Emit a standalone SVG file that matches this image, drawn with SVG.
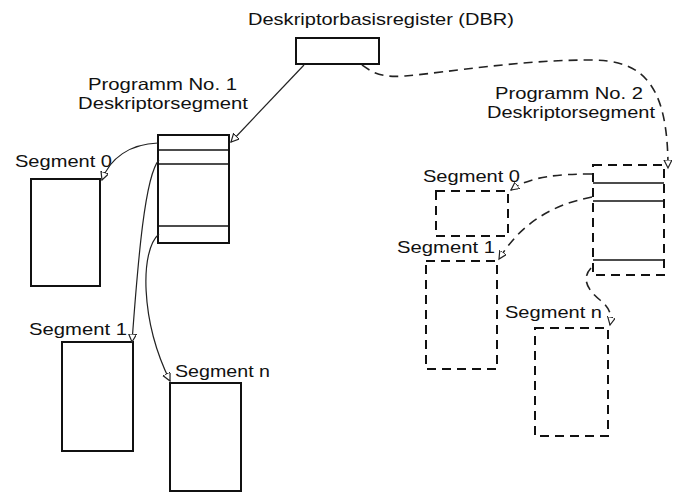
<svg xmlns="http://www.w3.org/2000/svg" width="686" height="494" viewBox="0 0 686 494">
<style>
text{font-family:"Liberation Sans",Arial,sans-serif;font-size:17px;fill:#111}
.big{font-size:16.5px}
.box{fill:#fff;stroke:#111;stroke-width:2}
.dbox{fill:#fff;stroke:#111;stroke-width:2;stroke-dasharray:9,6}
.ln{stroke:#111;stroke-width:1.5;fill:none}
.con{stroke:#222;stroke-width:1.2;fill:none}
.dcon{stroke:#222;stroke-width:1.6;fill:none;stroke-dasharray:9,6}
</style>
<defs>
<marker id="ah" markerWidth="10" markerHeight="10" refX="8" refY="4" orient="auto" markerUnits="userSpaceOnUse">
<path d="M0,0 L8,4 L0,8 Z" fill="#fff" stroke="#222" stroke-width="1.2"/>
</marker>
</defs>
<rect width="686" height="494" fill="#fff"/>

<g id="dbr">
<text x="248" y="25" textLength="266" lengthAdjust="spacingAndGlyphs">Deskriptorbasisregister (DBR)</text>
<rect class="box" x="296" y="38" width="83" height="26"/>
</g>

<g id="ds1">
<text class="big" x="88" y="90" textLength="149" lengthAdjust="spacingAndGlyphs">Programm No. 1</text>
<text class="big" x="78" y="109" textLength="170" lengthAdjust="spacingAndGlyphs">Deskriptorsegment</text>
<rect class="box" x="158" y="135" width="71" height="108"/>
<line class="ln" x1="158" y1="150" x2="229" y2="150"/>
<line class="ln" x1="158" y1="164" x2="229" y2="164"/>
<line class="ln" x1="158" y1="226" x2="229" y2="226"/>
</g>

<g id="seg0">
<text x="15" y="167" textLength="97" lengthAdjust="spacingAndGlyphs">Segment 0</text>
<rect class="box" x="31" y="179" width="69" height="107"/>
</g>
<g id="seg1">
<text x="29" y="335" textLength="98" lengthAdjust="spacingAndGlyphs">Segment 1</text>
<rect class="box" x="62" y="342" width="71" height="109"/>
</g>
<g id="segn">
<text x="175" y="377" textLength="95" lengthAdjust="spacingAndGlyphs">Segment n</text>
<rect class="box" x="170" y="383" width="71" height="108"/>
</g>

<g id="ds2">
<text class="big" x="495" y="99" textLength="148" lengthAdjust="spacingAndGlyphs">Programm No. 2</text>
<text class="big" x="487" y="117.5" textLength="168" lengthAdjust="spacingAndGlyphs">Deskriptorsegment</text>
<rect class="dbox" x="593" y="165" width="71" height="110"/>
<line class="ln" x1="593" y1="183" x2="664" y2="183"/>
<line class="ln" x1="593" y1="201" x2="664" y2="201"/>
<line class="ln" x1="593" y1="260" x2="664" y2="260"/>
</g>

<g id="rseg0">
<text x="423" y="182" textLength="97" lengthAdjust="spacingAndGlyphs">Segment 0</text>
<rect class="dbox" x="436" y="191" width="72" height="45"/>
</g>
<g id="rseg1">
<text x="397" y="253" textLength="98" lengthAdjust="spacingAndGlyphs">Segment 1</text>
<rect class="dbox" x="426" y="261" width="71" height="108"/>
</g>
<g id="rsegn">
<text x="505" y="318" textLength="97" lengthAdjust="spacingAndGlyphs">Segment n</text>
<rect class="dbox" x="535" y="328" width="73" height="108"/>
</g>

<g id="connectors">
<path class="con" d="M304,65 L231,142" marker-end="url(#ah)"/>
<path class="con" d="M158,143 C130,144 110,158 102,180" marker-end="url(#ah)"/>
<path class="con" d="M159,160 C145,175 138,260 132,342" marker-end="url(#ah)"/>
<path class="con" d="M159,234 C140,250 140,320 170,381" marker-end="url(#ah)"/>
<path class="dcon" d="M362,65 C372,72 380,78 405,76 C450,72 520,60 590,60 C640,60 668,80 668,168" marker-end="url(#ah)"/>
<path class="dcon" d="M592,174 C560,174 530,176 511,190" marker-end="url(#ah)"/>
<path class="dcon" d="M592,197 C550,205 520,225 499,259" marker-end="url(#ah)"/>
<path class="dcon" d="M591,268 C580,280 590,292 600,300 C610,308 612,315 610,325" marker-end="url(#ah)"/>
</g>
</svg>
